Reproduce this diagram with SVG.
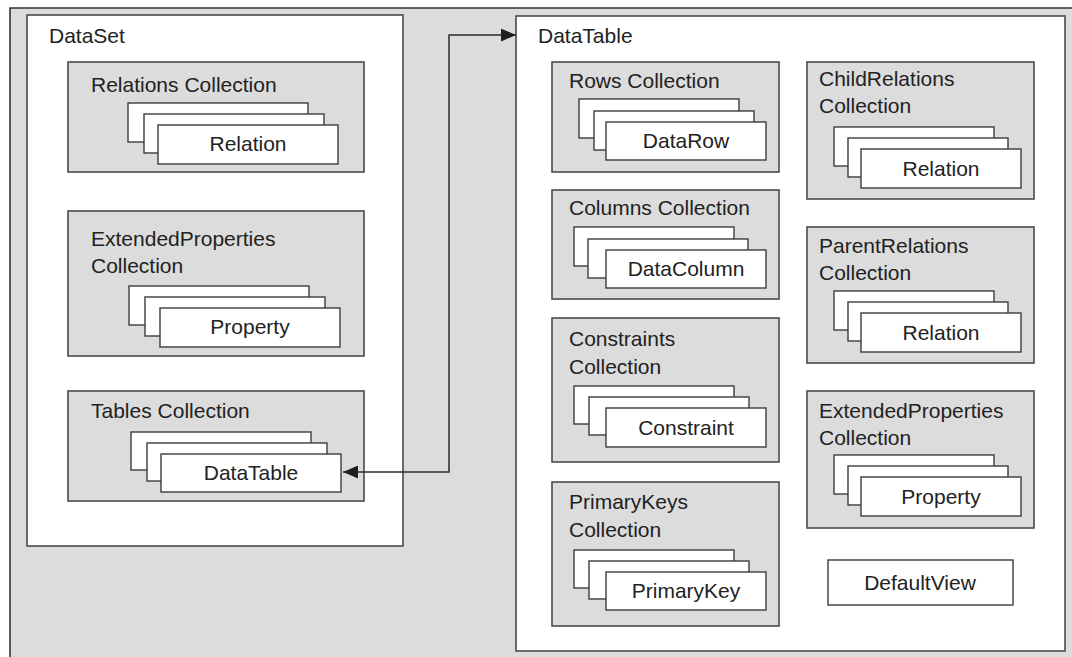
<svg xmlns="http://www.w3.org/2000/svg" width="1072" height="657" viewBox="0 0 1072 657">
  <defs>
    <style>
      .bg { fill: #dcdcdc; }
      .frame { fill: none; stroke: #333; stroke-width: 1.6; }
      .owner { fill: #ffffff; stroke: #4a4a4a; stroke-width: 1.6; }
      .coll { fill: #dcdcdc; stroke: #4a4a4a; stroke-width: 1.6; }
      .card { fill: #ffffff; stroke: #3c3c3c; stroke-width: 1.4; }
      .link { fill: none; stroke: #2a2a2a; stroke-width: 1.5; }
      text { font-family: "Liberation Sans", Arial, sans-serif; font-size: 21px; fill: #222; }
      .c { text-anchor: middle; }
    </style>
    <marker id="head" viewBox="0 0 15 13" refX="15" refY="6.5" markerWidth="15" markerHeight="13" markerUnits="userSpaceOnUse" orient="auto-start-reverse">
      <path d="M0,0 L15,6.5 L0,13 Z" fill="#1e1e1e"/>
    </marker>
  </defs>

  <!-- page background -->
  <rect class="bg" x="10" y="8" width="1070" height="660"/>
  <path class="frame" d="M10,660 V8 H1072"/>

  <!-- DataSet -->
  <g id="dataset">
    <rect class="owner" x="27" y="15" width="376" height="531"/>
    <text x="49" y="43">DataSet</text>
  </g>

  <g id="ds-relations">
    <rect class="coll" x="68" y="62" width="296" height="110"/>
    <text x="91" y="92">Relations Collection</text>
    <rect class="card" x="128" y="103" width="180" height="39"/>
    <rect class="card" x="144" y="114" width="180" height="39"/>
    <rect class="card" x="158" y="125" width="180" height="39"/>
    <text class="c" x="248" y="151">Relation</text>
  </g>

  <g id="ds-extprops">
    <rect class="coll" x="68" y="211" width="296" height="145"/>
    <text x="91" y="246">ExtendedProperties</text>
    <text x="91" y="273">Collection</text>
    <rect class="card" x="129" y="286" width="180" height="39"/>
    <rect class="card" x="145" y="297" width="180" height="39"/>
    <rect class="card" x="160" y="308" width="180" height="39"/>
    <text class="c" x="250" y="334">Property</text>
  </g>

  <g id="ds-tables">
    <rect class="coll" x="68" y="391" width="296" height="110"/>
    <text x="91" y="418">Tables Collection</text>
    <rect class="card" x="131" y="432" width="180" height="38"/>
    <rect class="card" x="147" y="443" width="180" height="38"/>
    <rect class="card" x="161" y="454" width="180" height="38"/>
    <text class="c" x="251" y="480">DataTable</text>
  </g>

  <!-- DataTable -->
  <g id="datatable">
    <rect class="owner" x="516" y="16" width="549" height="635"/>
    <text x="538" y="43">DataTable</text>
  </g>

  <g id="dt-rows">
    <rect class="coll" x="552" y="62" width="227" height="110"/>
    <text x="569" y="88">Rows Collection</text>
    <rect class="card" x="579" y="99" width="160" height="39"/>
    <rect class="card" x="594" y="111" width="160" height="39"/>
    <rect class="card" x="606" y="122" width="160" height="38"/>
    <text class="c" x="686" y="148">DataRow</text>
  </g>

  <g id="dt-columns">
    <rect class="coll" x="552" y="190" width="227" height="109"/>
    <text x="569" y="215">Columns Collection</text>
    <rect class="card" x="574" y="227" width="160" height="39"/>
    <rect class="card" x="588" y="239" width="160" height="39"/>
    <rect class="card" x="606" y="250" width="160" height="38"/>
    <text class="c" x="686" y="276">DataColumn</text>
  </g>

  <g id="dt-constraints">
    <rect class="coll" x="552" y="318" width="227" height="144"/>
    <text x="569" y="346">Constraints</text>
    <text x="569" y="374">Collection</text>
    <rect class="card" x="574" y="386" width="160" height="38"/>
    <rect class="card" x="589" y="397" width="160" height="38"/>
    <rect class="card" x="606" y="408" width="160" height="39"/>
    <text class="c" x="686" y="435">Constraint</text>
  </g>

  <g id="dt-primarykeys">
    <rect class="coll" x="552" y="482" width="227" height="144"/>
    <text x="569" y="509">PrimaryKeys</text>
    <text x="569" y="537">Collection</text>
    <rect class="card" x="574" y="550" width="160" height="38"/>
    <rect class="card" x="589" y="561" width="160" height="38"/>
    <rect class="card" x="606" y="572" width="160" height="38"/>
    <text class="c" x="686" y="598">PrimaryKey</text>
  </g>

  <g id="dt-childrelations">
    <rect class="coll" x="807" y="62" width="227" height="137"/>
    <text x="819" y="86">ChildRelations</text>
    <text x="819" y="113">Collection</text>
    <rect class="card" x="834" y="127" width="160" height="39"/>
    <rect class="card" x="848" y="138" width="160" height="39"/>
    <rect class="card" x="861" y="149" width="160" height="39"/>
    <text class="c" x="941" y="176">Relation</text>
  </g>

  <g id="dt-parentrelations">
    <rect class="coll" x="807" y="227" width="227" height="136"/>
    <text x="819" y="253">ParentRelations</text>
    <text x="819" y="280">Collection</text>
    <rect class="card" x="834" y="291" width="160" height="39"/>
    <rect class="card" x="848" y="302" width="160" height="39"/>
    <rect class="card" x="861" y="313" width="160" height="39"/>
    <text class="c" x="941" y="340">Relation</text>
  </g>

  <g id="dt-extprops">
    <rect class="coll" x="807" y="391" width="227" height="137"/>
    <text x="819" y="418">ExtendedProperties</text>
    <text x="819" y="445">Collection</text>
    <rect class="card" x="834" y="455" width="160" height="39"/>
    <rect class="card" x="848" y="466" width="160" height="39"/>
    <rect class="card" x="861" y="477" width="160" height="39"/>
    <text class="c" x="941" y="504">Property</text>
  </g>

  <g id="dt-defaultview">
    <rect class="card" x="828" y="560" width="185" height="45"/>
    <text class="c" x="920" y="590">DefaultView</text>
  </g>

  <!-- connectors -->
  <g id="connectors">
    <path class="link" d="M343,472 H449 V35 H516" marker-start="url(#head)" marker-end="url(#head)"/>
  </g>
</svg>
